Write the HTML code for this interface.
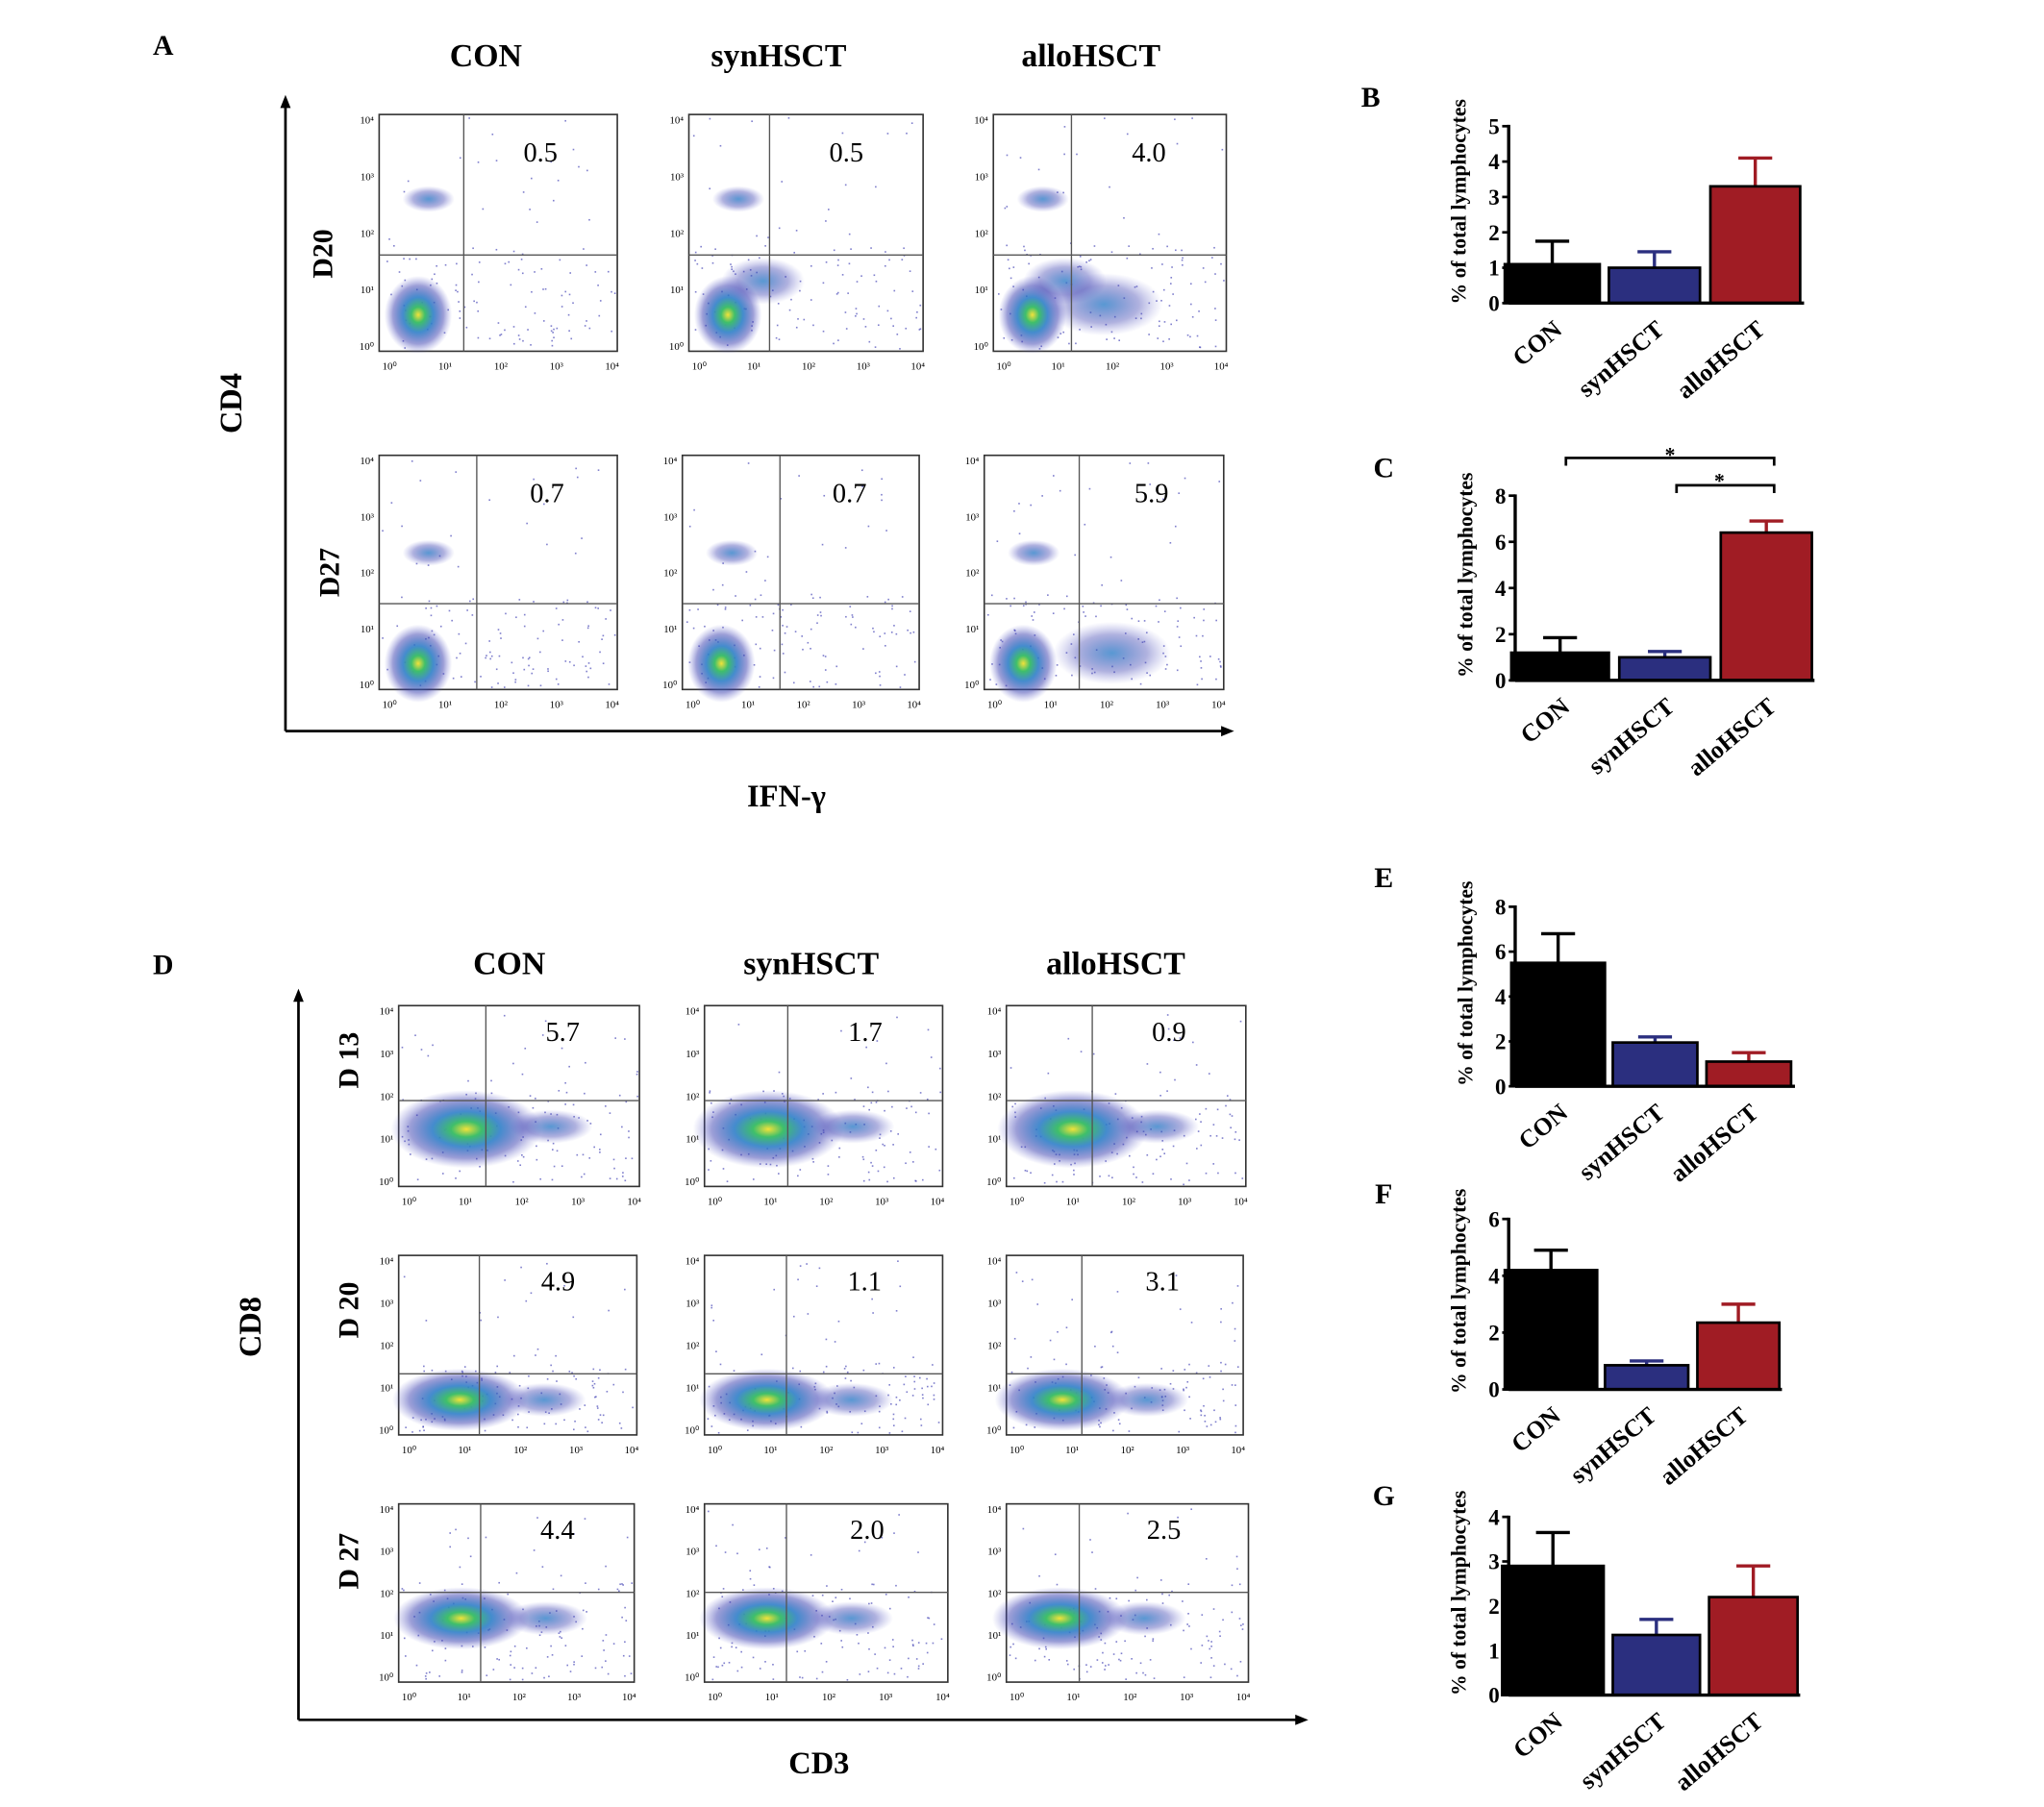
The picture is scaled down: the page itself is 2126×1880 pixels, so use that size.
<!DOCTYPE html>
<html><head><meta charset="utf-8"><style>
html,body{margin:0;padding:0;background:#fff}
svg{display:block}
text{font-family:"Liberation Serif",serif;font-weight:bold;fill:#000}
</style></head><body>
<svg id="fig" width="2126" height="1880" viewBox="0 0 1568 1389" xmlns="http://www.w3.org/2000/svg">
<defs>
<radialGradient id="blob">
<stop offset="0" stop-color="#f2e23a"/><stop offset="0.2" stop-color="#3fbf6a"/><stop offset="0.45" stop-color="#2f7fc8" stop-opacity="0.9"/><stop offset="0.75" stop-color="#3a3fb0" stop-opacity="0.5"/><stop offset="1" stop-color="#6a6ad0" stop-opacity="0"/>
</radialGradient>
<radialGradient id="blobB">
<stop offset="0" stop-color="#2f7fc8" stop-opacity="0.8"/><stop offset="0.6" stop-color="#3a3fb0" stop-opacity="0.4"/><stop offset="1" stop-color="#6a6ad0" stop-opacity="0"/>
</radialGradient>
</defs>
<g id="flow"></g>
<g id="bars"></g>
</svg>
<script>
// ----- bar chart data -----
const categories = ["CON","synHSCT","alloHSCT"];
const valuesB = [1.1, 1.0, 3.3];
const errorsB = [1.75, 1.45, 4.1];
const ticksB = [0,1,2,3,4,5];
const valuesC = [1.2, 1.0, 6.4];
const errorsC = [1.85, 1.25, 6.9];
const ticksC = [0,2,4,6,8];
const valuesE = [5.5, 1.95, 1.1];
const errorsE = [6.8, 2.2, 1.5];
const ticksE = [0,2,4,6,8];
const valuesF = [4.2, 0.85, 2.35];
const errorsF = [4.9, 1.0, 3.0];
const ticksF = [0,2,4,6];
const valuesG = [2.9, 1.35, 2.2];
const errorsG = [3.65, 1.7, 2.9];
const ticksG = [0,1,2,3,4];
// ----- flow plot percentages -----
const flowA = [["0.5","0.5","4.0"],["0.7","0.7","5.9"]];
const flowD = [["5.7","1.7","0.9"],["4.9","1.1","3.1"],["4.4","2.0","2.5"]];

const NS="http://www.w3.org/2000/svg";
const svg=document.getElementById('fig');
function mk(tag,attrs,parent,txt){const e=document.createElementNS(NS,tag);for(const k in attrs)e.setAttribute(k,attrs[k]);if(txt!==undefined)e.textContent=txt;(parent||svg).appendChild(e);return e;}

function label(x,y,t,size,name,rot){
  const e=mk('text',{x:x,y:y,'font-size':size,'text-anchor':'middle'},svg,t);
  if(rot)e.setAttribute('transform',`rotate(${rot} ${x} ${y})`);
  
  
  return e;
}
label(124,42,"A",22,"panel-label-a");
label(124,749,"D",22,"panel-label-d");
label(1052,82,"B",22,"panel-label-b");
label(1062,367,"C",22,"panel-label-c");
label(1062,682,"E",22,"panel-label-e");
label(1062,925,"F",22,"panel-label-f");
label(1062,1157,"G",22,"panel-label-g");
[[372,"CON"],[597,"synHSCT"],[837,"alloHSCT"]].forEach(([x,t])=>label(x,51,t,25,"column-title-a-"+t.toLowerCase()));
[[390,"CON"],[622,"synHSCT"],[856,"alloHSCT"]].forEach(([x,t])=>label(x,749,t,25,"column-title-d-"+t.toLowerCase()));
label(184,310,"CD4",24,"y-axis-title-cd4",-90);
label(603,620,"IFN-γ",24,"x-axis-title-ifn-gamma");
label(199,1020,"CD8",24,"y-axis-title-cd8",-90);
label(628,1363,"CD3",24,"x-axis-title-cd3");
label(254,195,"D20",22,"row-label-d20",-90);
label(259,440,"D27",22,"row-label-d27",-90);
label(274,815,"D 13",22,"row-label-d13",-90);
label(274,1007,"D 20",22,"row-label-d20-b",-90);
label(274,1200,"D 27",22,"row-label-d27-b",-90);

function arrowAxes(x0,yTop,yBot,xRight,name){
  const g=mk('g',{});
  
  
  mk('line',{x1:x0,y1:yBot,x2:x0,y2:yTop+8,stroke:'#000','stroke-width':2},g);
  mk('polygon',{points:`${x0-4},${yTop+10} ${x0+4},${yTop+10} ${x0},${yTop}`,fill:'#000'},g);
  mk('line',{x1:x0,y1:yBot,x2:xRight-8,y2:yBot,stroke:'#000','stroke-width':2},g);
  mk('polygon',{points:`${xRight-10},${yBot-4} ${xRight-10},${yBot+4} ${xRight},${yBot}`,fill:'#000'},g);
}
arrowAxes(218,73,562,947,"axes-panel-a");
arrowAxes(228,760,1322,1004,"axes-panel-d");

// deterministic speckle pattern (texture only)
function speckle(g,x1,y1,x2,y2,n,seed){
  let s=seed;
  const r=()=>{s=(s*9301+49297)%233280;return s/233280;};
  for(let i=0;i<n;i++){
    mk('rect',{x:x1+2+r()*(x2-x1-4),y:y1+2+r()*(y2-y1-4),width:1.2,height:1.2,fill:'#4a4ab8',opacity:0.7},g);
  }
}

const flowG=document.getElementById('flow');
function flowPlot(x1,y1,x2,y2,vx,hy,val,name,blobs,seed){
  const g=mk('g',{},flowG);
  
  
  mk('rect',{x:x1,y:y1,width:x2-x1,height:y2-y1,fill:'#fff',stroke:'#333','stroke-width':1.2},g);
  speckle(g,x1,hy-10,x2,y2,90,seed);
  speckle(g,x1,y1,x2,y2,40,seed+7);
  blobs.forEach(b=>mk('ellipse',{cx:b[0],cy:b[1],rx:b[2],ry:b[3],fill:b[4]?'url(#blobB)':'url(#blob)'},g));
  mk('line',{x1:vx,y1:y1,x2:vx,y2:y2,stroke:'#555','stroke-width':1},g);
  mk('line',{x1:x1,y1:hy,x2:x2,y2:hy,stroke:'#555','stroke-width':1},g);
  const t=mk('text',{x:(vx+x2)/2,y:y1+(y1<700?36:27),'font-size':21,'text-anchor':'middle',style:'font-weight:normal'},g,val);
  
  
  for(let i=0;i<5;i++){
    const tx=x1+8+i*(x2-x1-12)/4;
    mk('text',{x:tx,y:y2+14,'font-size':8,'text-anchor':'middle',style:'font-weight:normal'},g,'10'+['⁰','¹','²','³','⁴'][i]);
    const ty=y2-4-i*(y2-y1-8)/4;
    mk('text',{x:x1-4,y:ty+3,'font-size':8,'text-anchor':'end',style:'font-weight:normal'},g,'10'+['⁰','¹','²','³','⁴'][i]);
  }
}
const boxesA=[[[290,88,473,270,355,196],[528,88,708,270,590,196],[762,88,941,270,822,196]],
              [[290,350,473,530,365,464],[523,350,705,530,598,464],[755,350,939,530,828,464]]];
boxesA.forEach((row,r)=>row.forEach((b,c)=>{
  const bl=[[b[0]+30,b[5]+46,26,30],[b[0]+38,b[1]+(r?75:65),20,10,1]];
  if(r===0&&c>0)bl.push([b[4]-5,b[5]+20,32,18,1]);
  if(c===2)bl.push([b[4]+25,b[5]+38,45,24,1]);
  flowPlot(...b,flowA[r][c],`flow-plot-a-r${r+1}-c${c+1}`,bl,r*31+c*17+5);
}));
const boxesD=[[[305,773,490,912,372,846],[540,773,723,912,604,846],[772,773,956,912,838,846]],
              [[305,965,488,1103,367,1056],[540,965,723,1103,603,1056],[772,965,954,1103,830,1056]],
              [[305,1156,486,1293,368,1224],[540,1156,727,1293,603,1224],[772,1156,958,1293,828,1224]]];
boxesD.forEach((row,r)=>row.forEach((b,c)=>{
  const bl=[[b[4]-15,b[5]+(r===0?22:20),r===0?58:52,r===0?30:24],[b[4]+50,b[5]+20,32,13,1]];
  flowPlot(...b,flowD[r][c],`flow-plot-d-r${r+1}-c${c+1}`,bl,r*13+c*29+3);
}));

const colors=['#000','#2b2f7f','#a01c24'];
const barsG=document.getElementById('bars');
function barChart(cfg,values,errors,ticks,name){
  const g=mk('g',{},barsG);
  
  
  const max=ticks[ticks.length-1];
  const y=v=>cfg.y0-(cfg.y0-cfg.yTop)*v/max;
  values.forEach((v,i)=>{
    const bx=cfg.xs[i], bw=cfg.w[i], cx=bx+bw/2;
    mk('line',{x1:cx,y1:y(v),x2:cx,y2:y(errors[i]),stroke:colors[i],'stroke-width':2.5},g);
    mk('line',{x1:cx-13,y1:y(errors[i]),x2:cx+13,y2:y(errors[i]),stroke:colors[i],'stroke-width':2.5},g);
    const r=mk('rect',{x:bx,y:y(v),width:bw,height:cfg.y0-y(v),fill:colors[i],stroke:'#000','stroke-width':2},g);
    
    
    const lx=cx, ly=cfg.y0+12;
    const t=mk('text',{x:lx,y:ly,'font-size':19,'text-anchor':'end',transform:`rotate(-40 ${lx} ${ly})`,dy:'0.7em'},g,categories[i]);
    
    
  });
  mk('line',{x1:cfg.ax,y1:cfg.yTop-1,x2:cfg.ax,y2:cfg.y0,stroke:'#000','stroke-width':2.5},g);
  mk('line',{x1:cfg.ax,y1:cfg.y0,x2:cfg.xEnd,y2:cfg.y0,stroke:'#000','stroke-width':2.5},g);
  ticks.forEach(tv=>{
    mk('line',{x1:cfg.ax-5,y1:y(tv),x2:cfg.ax,y2:y(tv),stroke:'#000','stroke-width':2},g);
    mk('text',{x:cfg.ax-7,y:y(tv)+6,'font-size':17,'text-anchor':'end'},g,String(tv));
  });
  const tx=cfg.ax-33, ty=(cfg.y0+cfg.yTop)/2-10;
  const yt=mk('text',{x:tx,y:ty,'font-size':16,'text-anchor':'middle',transform:`rotate(-90 ${tx} ${ty})`},g,'% of total lymphocytes');
  
  
  return y;
}
barChart({ax:1158,y0:233,yTop:97,xEnd:1385,xs:[1155,1235,1313],w:[73,70,69]},valuesB,errorsB,ticksB,"bar-chart-b");
barChart({ax:1163,y0:523,yTop:381,xEnd:1393,xs:[1160,1243,1321],w:[75,70,70]},valuesC,errorsC,ticksC,"bar-chart-c");
barChart({ax:1163,y0:835,yTop:697,xEnd:1378,xs:[1160,1238,1310],w:[72,65,65]},valuesE,errorsE,ticksE,"bar-chart-e");
barChart({ax:1158,y0:1068,yTop:937,xEnd:1368,xs:[1155,1232,1303],w:[71,64,63]},valuesF,errorsF,ticksF,"bar-chart-f");
barChart({ax:1158,y0:1303,yTop:1166,xEnd:1382,xs:[1153,1238,1312],w:[78,67,68]},valuesG,errorsG,ticksG,"bar-chart-g");

const sig=mk('g',{});


mk('polyline',{points:"1202,358 1202,352 1362,352 1362,358",fill:'none',stroke:'#000','stroke-width':2},sig);
mk('text',{x:1282,y:355,'font-size':16,'text-anchor':'middle'},sig,'*');
mk('polyline',{points:"1287,379 1287,373 1362,373 1362,379",fill:'none',stroke:'#000','stroke-width':2},sig);
mk('text',{x:1320,y:375,'font-size':16,'text-anchor':'middle'},sig,'*');
</script>
</body></html>
